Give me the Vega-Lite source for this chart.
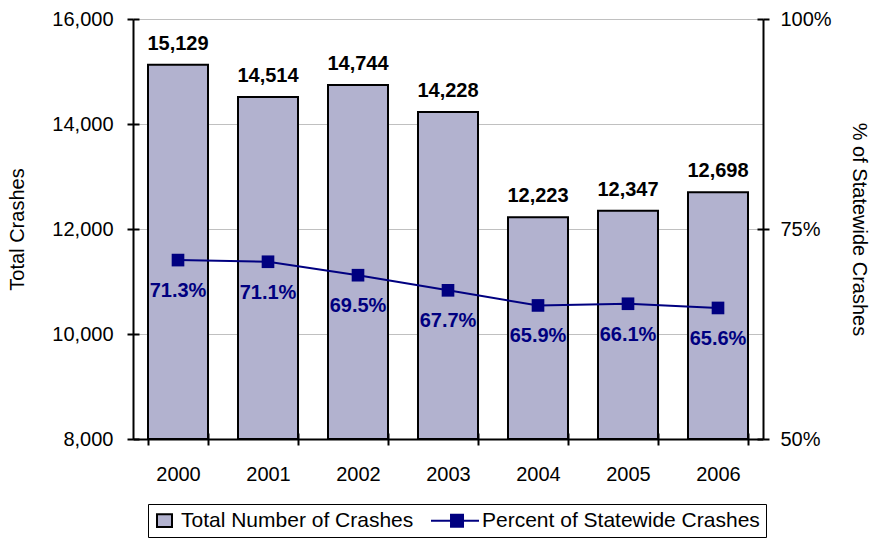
{
  "$schema": "https://vega.github.io/schema/vega-lite/v6.json",
  "width": 630,
  "height": 420,
  "autosize": {"type": "none"},
  "padding": {"left": 133, "top": 19, "right": 122, "bottom": 101},
  "background": "white",
  "config": {
    "font": "Liberation Sans",
    "view": {"stroke": "#999999", "strokeWidth": 1}
  },
  "data": {
    "values": [
      {"year": "2000", "crashes": 15129, "pct": 0.713},
      {"year": "2001", "crashes": 14514, "pct": 0.711},
      {"year": "2002", "crashes": 14744, "pct": 0.695},
      {"year": "2003", "crashes": 14228, "pct": 0.677},
      {"year": "2004", "crashes": 12223, "pct": 0.659},
      {"year": "2005", "crashes": 12347, "pct": 0.661},
      {"year": "2006", "crashes": 12698, "pct": 0.656}
    ]
  },
  "layer": [
    {
      "encoding": {
        "x": {
          "field": "year",
          "type": "ordinal",
          "scale": {"paddingInner": 0.3333, "paddingOuter": 0.1667},
          "axis": {
            "title": null,
            "tickBand": "extent",
            "labelAngle": 0,
            "labelFontSize": 20,
            "labelColor": "black",
            "labelBaseline": "alphabetic",
            "labelPadding": 35,
            "tickSize": 6,
            "tickWidth": 2,
            "tickColor": "black",
            "domainColor": "black",
            "domainWidth": 2
          }
        },
        "y": {
          "field": "crashes",
          "type": "quantitative",
          "scale": {"domain": [8000, 16000], "zero": false, "nice": false},
          "axis": {
            "orient": "left",
            "title": "Total Crashes",
            "values": [8000, 10000, 12000, 14000, 16000],
            "format": ",d",
            "grid": true,
            "gridColor": "#c0c0c0",
            "gridWidth": 1,
            "labelFontSize": 20,
            "labelColor": "black",
            "labelPadding": 14,
            "tickSize": 6,
            "tickWidth": 2,
            "tickColor": "black",
            "domainColor": "black",
            "domainWidth": 2,
            "titleFontSize": 20,
            "titleFontWeight": "normal",
            "titleColor": "black",
            "titlePadding": 24
          }
        }
      },
      "layer": [
        {
          "mark": {"type": "bar", "stroke": "black", "strokeWidth": 2, "opacity": 1},
          "encoding": {
            "y2": {"datum": 8000},
            "fill": {
              "datum": "Total Number of Crashes",
              "type": "nominal",
              "scale": {
                "domain": ["Total Number of Crashes", "Percent of Statewide Crashes"],
                "range": ["#b2b2cf", "#000080"]
              },
              "legend": {
                "title": null,
                "orient": "none",
                "legendX": 15,
                "legendY": 485,
                "direction": "horizontal",
                "strokeColor": "black",
                "padding": 6,
                "labelFontSize": 21,
                "labelColor": "black",
                "labelLimit": 400,
                "labelOffset": 6,
                "symbolSize": 225,
                "symbolStrokeWidth": 2,
                "symbolOpacity": 1,
                "columnPadding": 13
              }
            }
          }
        },
        {
          "mark": {"type": "text", "fontWeight": "bold", "fontSize": 20, "baseline": "alphabetic", "dy": -15, "color": "black"},
          "encoding": {
            "text": {"field": "crashes", "type": "quantitative", "format": ","}
          }
        }
      ]
    },
    {
      "encoding": {
        "x": {
          "field": "year",
          "type": "ordinal",
          "scale": {"paddingInner": 0.3333, "paddingOuter": 0.1667},
          "axis": null
        },
        "y": {
          "field": "pct",
          "type": "quantitative",
          "scale": {"domain": [0.5, 1], "zero": false, "nice": false},
          "axis": {
            "orient": "right",
            "title": "% of Statewide Crashes",
            "values": [0.5, 0.75, 1],
            "format": ".0%",
            "grid": false,
            "labelFontSize": 20,
            "labelColor": "black",
            "labelPadding": 11,
            "tickSize": 6,
            "tickWidth": 2,
            "tickColor": "black",
            "domainColor": "black",
            "domainWidth": 2,
            "titleFontSize": 20,
            "titleFontWeight": "normal",
            "titleColor": "black",
            "titlePadding": 17
          }
        }
      },
      "layer": [
        {
          "mark": {"type": "line", "strokeWidth": 2},
          "encoding": {
            "stroke": {
              "datum": "Percent of Statewide Crashes",
              "type": "nominal",
              "scale": {
                "domain": ["Total Number of Crashes", "Percent of Statewide Crashes"],
                "range": ["black", "#000080"]
              },
              "legend": {
                "title": null,
                "orient": "none",
                "legendX": 15,
                "legendY": 485,
                "direction": "horizontal",
                "strokeColor": "black",
                "padding": 6,
                "labelFontSize": 21,
                "labelColor": "black",
                "labelLimit": 400,
                "labelOffset": 6,
                "symbolSize": 225,
                "symbolStrokeWidth": 2,
                "symbolOpacity": 1,
                "columnPadding": 13
              }
            }
          }
        },
        {
          "mark": {"type": "point", "shape": "square", "filled": true, "size": 160, "opacity": 1},
          "encoding": {"fill": {"datum": "Percent of Statewide Crashes", "type": "nominal"}}
        },
        {
          "mark": {"type": "text", "fontWeight": "bold", "fontSize": 20, "baseline": "alphabetic", "dy": 37, "color": "#000080"},
          "encoding": {
            "text": {"field": "pct", "type": "quantitative", "format": ".1%"}
          }
        }
      ]
    },
    {
      "mark": {"type": "point", "opacity": 0, "filled": true, "size": 1},
      "encoding": {
        "x": {
          "field": "year",
          "type": "ordinal",
          "scale": {"paddingInner": 0.3333, "paddingOuter": 0.1667},
          "axis": {
            "orient": "bottom",
            "title": null,
            "labels": false,
            "domain": false,
            "grid": false,
            "tickBand": "extent",
            "tickSize": -6,
            "tickWidth": 2,
            "tickColor": "black"
          }
        },
        "y": {
          "field": "pct",
          "type": "quantitative",
          "scale": {"domain": [0.5, 1], "zero": false, "nice": false},
          "axis": {
            "orient": "right",
            "title": null,
            "labels": false,
            "domain": false,
            "grid": false,
            "values": [0.5, 0.75, 1],
            "tickSize": -6,
            "tickWidth": 2,
            "tickColor": "black"
          }
        },
        "shape": {
          "datum": "Percent of Statewide Crashes",
          "type": "nominal",
          "scale": {
            "domain": ["Total Number of Crashes", "Percent of Statewide Crashes"],
            "range": ["M-1,-0.85H1V0.85H-1Z", "M-4.6,0H1.8M-1.93,-0.8H-0.33V0.8H-1.93Z"]
          },
          "legend": {
            "title": null,
            "orient": "none",
            "legendX": 15,
            "legendY": 485,
            "direction": "horizontal",
            "strokeColor": "black",
            "padding": 6,
            "labelFontSize": 21,
            "labelColor": "black",
            "labelLimit": 400,
            "labelOffset": 6,
            "symbolSize": 225,
            "symbolStrokeWidth": 2,
            "symbolOpacity": 1,
            "columnPadding": 13
          }
        }
      }
    },
    {
      "mark": {"type": "point", "opacity": 0, "size": 1},
      "encoding": {
        "x": {
          "field": "year",
          "type": "ordinal",
          "scale": {"paddingInner": 0.3333, "paddingOuter": 0.1667},
          "axis": null
        },
        "y": {
          "field": "crashes",
          "type": "quantitative",
          "scale": {"domain": [8000, 16000], "zero": false, "nice": false},
          "axis": {
            "orient": "left",
            "title": null,
            "labels": false,
            "domain": false,
            "grid": false,
            "values": [8000, 10000, 12000, 14000, 16000],
            "tickSize": -6,
            "tickWidth": 2,
            "tickColor": "black"
          }
        }
      }
    }
  ],
  "resolve": {"scale": {"x": "independent", "y": "independent"}}
}
